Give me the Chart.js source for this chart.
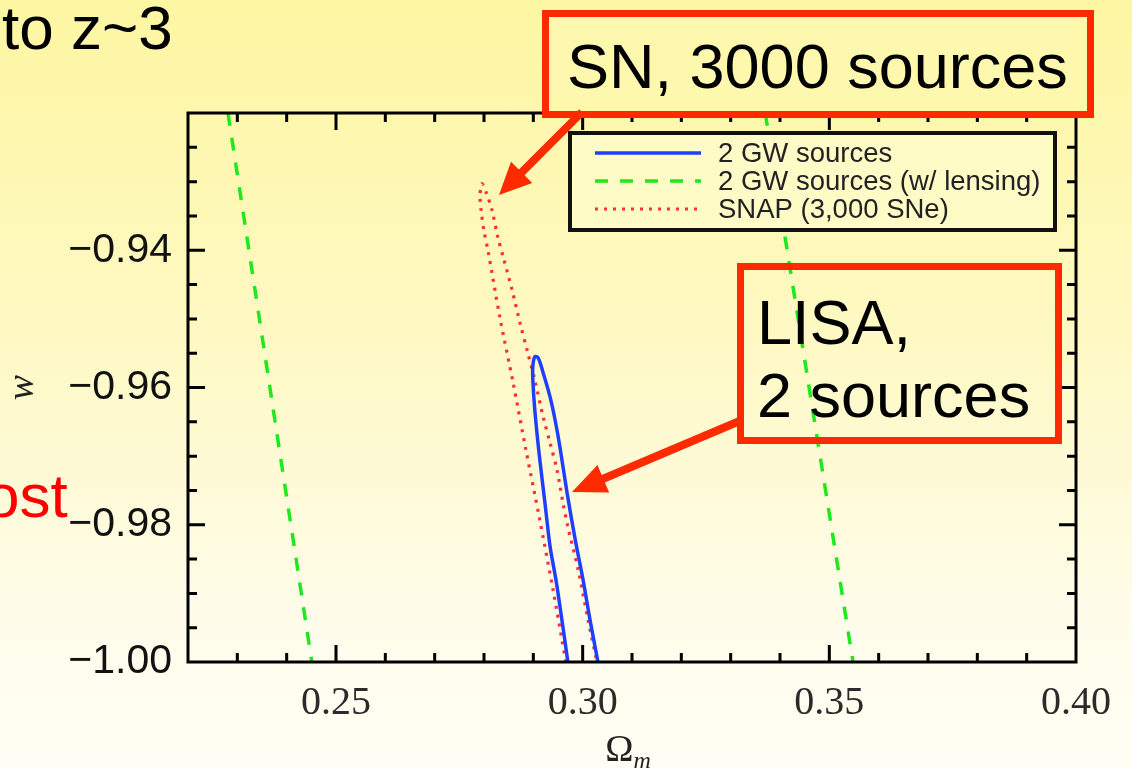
<!DOCTYPE html>
<html>
<head>
<meta charset="utf-8">
<script src="https://cdn.jsdelivr.net/npm/chart.js@4.4.0/dist/chart.umd.min.js"></script>
<style>
  html, body { margin: 0; padding: 0; }
  body {
    width: 1132px; height: 768px; overflow: hidden;
    background: linear-gradient(180deg, #fdf6a2 0%, #fef9c4 45%, #fffcea 80%, #fffef4 100%);
    font-family: 'Liberation Sans', Arial, sans-serif;
  }
  #wrap { position: relative; width: 1132px; height: 768px; overflow: hidden; }
  #holder { position: absolute; left: 0; top: 0; width: 1132px; height: 768px; }
  .txt { position: absolute; white-space: nowrap; font-size: 62px; line-height: 62px; }
  .box {
    position: absolute; box-sizing: border-box; border: 7px solid #ff2a00;
    font-size: 63px; color: #000; white-space: nowrap;
  }
  #sn { left: 542px; top: 10px; width: 552px; height: 108px; padding: 4px 0 0 18px; line-height: 90px; background: #fef8ae; }
  #lisa { left: 737px; top: 263px; width: 325px; height: 181px; padding: 16px 0 0 13px; line-height: 73px; }
  svg { position: absolute; left: 0; top: 0; }
</style>
</head>
<body>
<div id="wrap">
  <div id="holder"><canvas id="chart"></canvas></div>
  <div class="txt" style="left:2px;top:-3px;color:#000">to z~3</div>
  <div class="txt" style="left:-15px;top:465px;color:#ff0000">ost</div>
  <div class="box" id="sn">SN, 3000 sources</div>
  <div class="box" id="lisa">LISA,<br>2 sources</div>
  <svg id="arrows" width="1132" height="768"></svg>
</div>
<script>
// x = Omega_m, y = w
const gwOmega = [0.2970, 0.2958, 0.2946, 0.2934, 0.2924, 0.2912, 0.2903, 0.2899, 0.2899, 0.2903,
                 0.2910, 0.2920, 0.2934, 0.2944, 0.2954, 0.2968, 0.2985, 0.3001, 0.3015, 0.3031];
const gwW = [-1.000, -0.9939, -0.9881, -0.9832, -0.9771, -0.9698, -0.9633, -0.9589, -0.9569, -0.9555,
             -0.9557, -0.9579, -0.9614, -0.9647, -0.9687, -0.9752, -0.9822, -0.9881, -0.9939, -1.000];

const lensOmega = [0.2281, 0.2451, NaN, 0.3370, 0.3548];
const lensW = [-0.92, -1.00, NaN, -0.92, -1.00];

const snapOmega = [0.2966, 0.2940, 0.2912, 0.2885, 0.2859, 0.2832, 0.2808, 0.2800, 0.2794, 0.2792, 0.2796,
                   0.2804, 0.2816, 0.2828, 0.2839, 0.2857, 0.2873, 0.2889, 0.2903, 0.2920, 0.2934,
                   0.2948, 0.2960, 0.2970, 0.2991, 0.3011, 0.3029];
const snapW = [-1.000, -0.9895, -0.9789, -0.9691, -0.9593, -0.9497, -0.9400, -0.9372, -0.9341, -0.9319, -0.9303,
               -0.9315, -0.9341, -0.9381, -0.9410, -0.9458, -0.9506, -0.9550, -0.9589, -0.9643, -0.9681,
               -0.9720, -0.9768, -0.9803, -0.9866, -0.9939, -1.000];

const seriesLabels = ['2 GW sources', '2 GW sources (w/ lensing)', 'SNAP (3,000 SNe)'];
const xMajorLabels = [0.25, 0.30, 0.35, 0.40];
const yMajorLabels = [-1.00, -0.98, -0.96, -0.94];

const pts = (xs, ys) => xs.map((x, i) => ({ x, y: ys[i] }));
const isMajorX = v => Math.round(v * 100) % 5 === 0;
const isMajorY = v => Math.round(v * 1000) % 20 === 0;

const serif = "'Liberation Serif', 'Times New Roman', serif";
const sans = "'Liberation Sans', Arial, sans-serif";

// inward ticks on all four sides plus the frame
const frameTicks = {
    id: 'frameTicks',
    afterDatasetsDraw(chart) {
        const { ctx, chartArea: a, scales: { x, y } } = chart;
        ctx.save();
        ctx.strokeStyle = '#000';
        ctx.lineWidth = 3;
        ctx.beginPath();
        x.ticks.forEach(t => {
            const px = x.getPixelForValue(t.value);
            if (px <= a.left + 1 || px >= a.right - 1) return;
            const len = isMajorX(t.value) ? 17 : 9;
            ctx.moveTo(px, a.bottom); ctx.lineTo(px, a.bottom - len);
            ctx.moveTo(px, a.top); ctx.lineTo(px, a.top + len);
        });
        y.ticks.forEach(t => {
            const py = y.getPixelForValue(t.value);
            if (py <= a.top + 1 || py >= a.bottom - 1) return;
            const len = isMajorY(t.value) ? 17 : 9;
            ctx.moveTo(a.left, py); ctx.lineTo(a.left + len, py);
            ctx.moveTo(a.right, py); ctx.lineTo(a.right - len, py);
        });
        ctx.stroke();
        ctx.strokeRect(a.left, a.top, a.right - a.left, a.bottom - a.top);
        ctx.restore();
    }
};

// boxed legend inside the plot, top right
const boxLegend = {
    id: 'boxLegend',
    afterDatasetsDraw(chart) {
        const { ctx, chartArea: a } = chart;
        const w = 485, h = 97;
        const left = a.right - 21 - w, top = a.top + 20;
        ctx.save();
        ctx.fillStyle = '#fffbc6';
        ctx.fillRect(left, top, w, h);
        ctx.strokeStyle = '#111';
        ctx.lineWidth = 4;
        ctx.strokeRect(left, top, w, h);
        ctx.font = '27.5px ' + sans;
        ctx.textBaseline = 'middle';
        chart.data.datasets.forEach((ds, i) => {
            const yy = top + 20 + i * 28;
            ctx.strokeStyle = ds.borderColor;
            ctx.lineWidth = ds.borderWidth;
            ctx.setLineDash(ds.borderDash || []);
            ctx.beginPath();
            ctx.moveTo(left + 25, yy);
            ctx.lineTo(left + 131, yy);
            ctx.stroke();
            ctx.setLineDash([]);
            ctx.fillStyle = '#222';
            ctx.fillText(ds.label, left + 148, yy + 1);
        });
        ctx.restore();
    }
};

// x axis title: Omega with subscript m
const omegaTitle = {
    id: 'omegaTitle',
    afterDraw(chart) {
        const { ctx, chartArea: a } = chart;
        const cx = (a.left + a.right) / 2;
        ctx.save();
        ctx.fillStyle = '#222';
        ctx.font = '38px ' + serif;
        const w1 = ctx.measureText('Ω').width;
        ctx.font = 'italic 24px ' + serif;
        const w2 = ctx.measureText('m').width;
        const x0 = cx - (w1 + w2) / 2 - 4;
        ctx.textBaseline = 'alphabetic';
        ctx.font = '38px ' + serif;
        ctx.fillText('Ω', x0, 761);
        ctx.font = 'italic 24px ' + serif;
        ctx.fillText('m', x0 + w1, 768);
        ctx.restore();
    }
};

const chart = new Chart(document.getElementById('chart').getContext('2d'), {
    type: 'scatter',
    data: {
        datasets: [
            {
                label: seriesLabels[0],
                data: pts(gwOmega, gwW),
                showLine: true,
                borderColor: '#1f3fff',
                borderWidth: 3.5,
                pointRadius: 0,
                tension: 0.3
            },
            {
                label: seriesLabels[1],
                data: pts(lensOmega, lensW),
                showLine: true,
                spanGaps: false,
                borderColor: '#1fe81f',
                borderWidth: 3.5,
                borderDash: [13, 12],
                pointRadius: 0
            },
            {
                label: seriesLabels[2],
                data: pts(snapOmega, snapW),
                showLine: true,
                borderColor: '#ff2f2f',
                borderWidth: 3.2,
                borderDash: [3, 6],
                pointRadius: 0,
                tension: 0.3
            }
        ]
    },
    options: {
        responsive: true,
        maintainAspectRatio: false,
        animation: false,
        layout: { padding: { top: 113, right: 56, left: 0, bottom: 0 } },
        plugins: {
            legend: { display: false },
            tooltip: { enabled: false }
        },
        scales: {
            x: {
                type: 'linear',
                min: 0.22,
                max: 0.40,
                grid: { display: false },
                border: { display: false },
                ticks: {
                    stepSize: 0.01,
                    autoSkip: false,
                    maxRotation: 0,
                    padding: 9,
                    color: '#2a2a2a',
                    font: { family: serif, size: 40 },
                    callback: v => xMajorLabels.some(m => Math.abs(m - v) < 1e-6) ? v.toFixed(2) : ''
                },
                afterFit: s => { s.height = 106; }
            },
            y: {
                type: 'linear',
                min: -1.00,
                max: -0.92,
                grid: { display: false },
                border: { display: false },
                ticks: {
                    stepSize: 0.005,
                    autoSkip: false,
                    padding: 8,
                    color: '#111',
                    font: { family: sans, size: 41 },
                    callback: v => yMajorLabels.some(m => Math.abs(m - v) < 1e-6) ? '\u2212' + Math.abs(v).toFixed(2) : ''
                },
                title: {
                    display: true,
                    text: 'w',
                    color: '#222',
                    font: { family: serif, size: 38, style: 'italic' },
                    padding: { top: 0, bottom: 0 }
                },
                afterFit: s => { s.width = 188; }
            }
        }
    },
    plugins: [frameTicks, boxLegend, omegaTitle]
});

// red call-out arrows
function arrowPath(x1, y1, x2, y2, shaft, headLen, headW) {
    const dx = x2 - x1, dy = y2 - y1, L = Math.hypot(dx, dy);
    const ux = dx / L, uy = dy / L, nx = -uy, ny = ux;
    const bx = x2 - ux * headLen, by = y2 - uy * headLen;
    const p = [
        [x1 + nx * shaft / 2, y1 + ny * shaft / 2],
        [bx + nx * shaft / 2, by + ny * shaft / 2],
        [bx + nx * headW / 2, by + ny * headW / 2],
        [x2, y2],
        [bx - nx * headW / 2, by - ny * headW / 2],
        [bx - nx * shaft / 2, by - ny * shaft / 2],
        [x1 - nx * shaft / 2, y1 - ny * shaft / 2]
    ];
    return 'M' + p.map(q => q[0].toFixed(1) + ',' + q[1].toFixed(1)).join('L') + 'Z';
}
const svg = document.getElementById('arrows');
[[582, 112, 499, 195, 8, 32, 30], [742, 420, 572, 492, 8, 34, 30]].forEach(a => {
    const path = document.createElementNS('http://www.w3.org/2000/svg', 'path');
    path.setAttribute('d', arrowPath(...a));
    path.setAttribute('fill', '#ff2a00');
    svg.appendChild(path);
});
</script>
</body>
</html>
